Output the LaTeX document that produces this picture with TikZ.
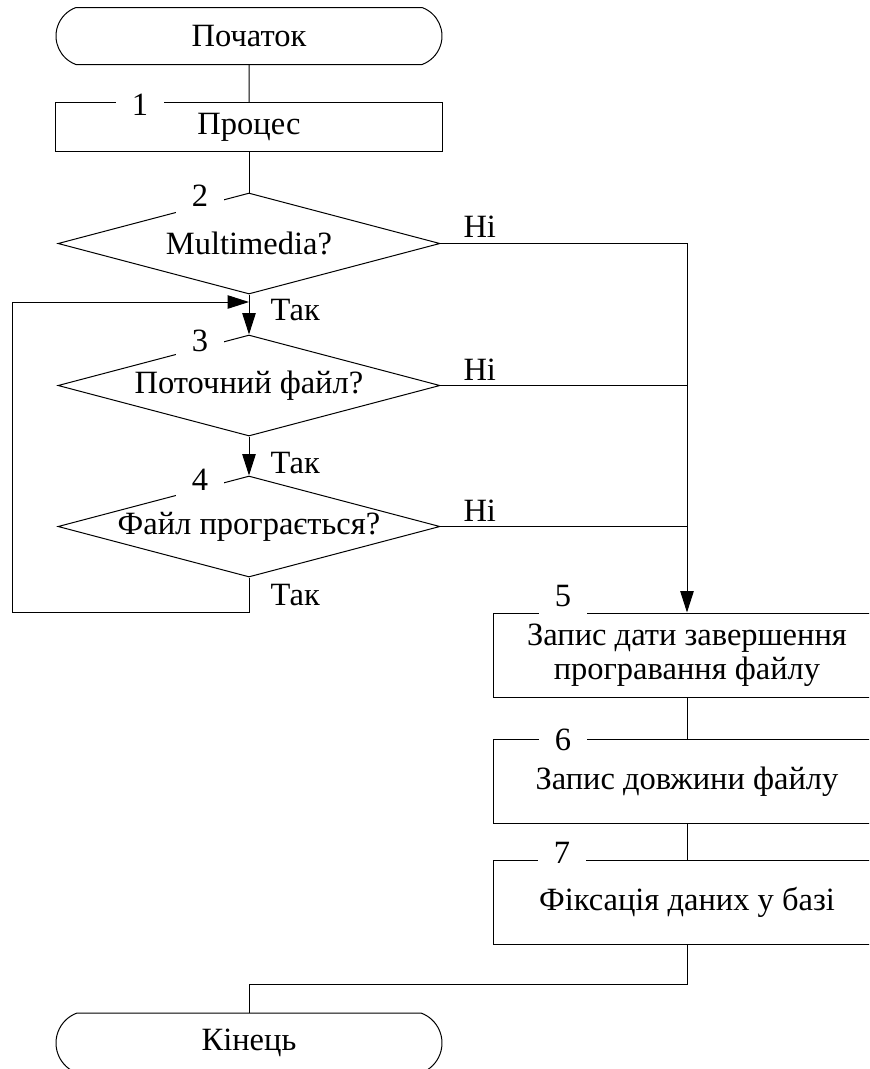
\documentclass[tikz,border=0pt]{standalone}
\usepackage{fontspec}
\setmainfont{Liberation Serif}
\usetikzlibrary{shapes.geometric,shapes.misc,arrows.meta}

\tikzset{
    term/.style={draw, rounded rectangle, rounded rectangle arc length=140,
        minimum width=154.4pt, minimum height=22.8pt, inner sep=0pt},
    proc/.style={draw, rectangle, minimum width=154.4pt, minimum height=19.3pt,
        inner sep=0pt, align=center},
    procbig/.style={proc, minimum height=33.6pt},
    decide/.style={draw, diamond, aspect=3.8, minimum width=152.8pt,
        minimum height=40.4pt, inner sep=0pt},
    num/.style={fill=white, inner xsep=6.4pt, inner ysep=4pt, anchor=base},
    lbl/.style={inner sep=0pt, anchor=base west}
}

\begin{document}
\begin{tikzpicture}[x=0.4pt, y=-0.4pt, >={Triangle[length=8.6pt,width=5.4pt]},
    font=\fontsize{13pt}{13.5pt}\selectfont]
    \clip (0,0) rectangle (869,1069);

    \node[term] (start) at (249,36) {Початок};
    \node[proc] (p1) at (249,127) {Процес};
    \node[decide] (d2) at (249,243.5) {Multimedia?};
    \node[decide] (d3) at (249,385.5) {Поточний файл?};
    \node[decide] (d4) at (249,526.5) {Файл програється?};
    \node[procbig] (p5) at (687,655) {Запис дати завершення\\програвання файлу};
    \node[procbig] (p6) at (687,781.5) {Запис довжини файлу};
    \node[procbig] (p7) at (687,902.5) {Фіксація даних у базі};
    \node[term, minimum height=24pt] (stop) at (249,1043) {Кінець};

    \coordinate (loopin) at (249,302);
    \coordinate (loopbl) at (12,612);

    \draw (start) -- (p1);
    \draw (p1) -- (d2);
    \draw[->] (d2) -- (d3);
    \draw[->] (d3) -- (d4);
    \draw[->] (d4.south) |- (loopbl) |- (loopin);

    \draw[->] (d2.east) -| (p5.north);
    \draw (d3.east) -- (d3.east -| p5.north);
    \draw (d4.east) -- (d4.east -| p5.north);

    \draw (p5) -- (p6);
    \draw (p6) -- (p7);
    \draw (p7.south) -- ++(0,39) -| (stop.north);

    % block numbers
    \node[num] (n1) at (140,115) {1};
    \node[num] (n2) at (200,206) {2};
    \node[num] (n3) at (200,351) {3};
    \node[num] (n4) at (200,490) {4};
    \node[num] (n5) at (563,606) {5};
    \node[num] (n6) at (563,750) {6};
    \node[num] (n7) at (562,863) {7};

    \node[lbl] (yes2) at (270,320) {Так};
    \node[lbl] (yes3) at (270,473) {Так};
    \node[lbl] (yes4) at (270,605) {Так};
    \node[lbl] (no2) at (463,237) {Ні};
    \node[lbl] (no3) at (463,380) {Ні};
    \node[lbl] (no4) at (463,521.5) {Ні};
\end{tikzpicture}
\end{document}
